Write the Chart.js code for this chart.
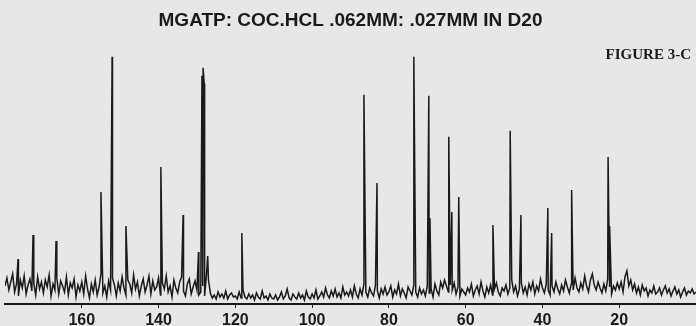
<!DOCTYPE html>
<html>
<head>
<meta charset="utf-8">
<script src="https://cdn.jsdelivr.net/npm/chart.js@4.4.1/dist/chart.umd.min.js"></script>
<style>
    html, body { margin: 0; padding: 0; background: #e7e7e5; }
    #wrap { width: 696px; height: 326px; position: relative; }
</style>
</head>
<body>
<div id="wrap">
    <canvas id="spectrum-chart" width="696" height="326"></canvas>
</div>

<script>
    // Chemical shift axis (ppm), reversed like the original spectrum
    const shiftMax = 180;
    const shiftMin = 0;
    const tickValues = [160, 140, 120, 100, 80, 60, 40, 20];

    // Resolved peaks: position (ppm) and height
    const peakShift = [176.6, 172.7, 166.7, 155.0, 152.1, 148.5, 139.4, 133.6, 129.6, 128.7, 128.4, 128.1, 127.2, 118.3,
        86.5, 83.1, 73.5, 69.6, 69.3, 64.4, 63.6, 61.8, 52.9, 48.4, 45.6, 38.6, 37.6, 32.4, 22.9, 22.5];
    const peakHeight = [45, 69, 63, 112, 247, 78, 137, 89, 52, 228, 236, 220, 48, 71,
        209, 121, 247, 208, 86, 167, 92, 107, 79, 173, 89, 96, 71, 114, 147, 78];

    // Baseline noise, read every 0.5 ppm from 180 down to 0
    const noiseStep = 0.5;
    const noise = [
        18, 26, 14, 22, 30, 12, 20, 8, 24, 16, 28, 10, 19, 25, 13, 21, 9, 27, 15, 22,
        11, 24, 17, 29, 8, 20, 14, 26, 10, 23, 18, 12, 27, 9, 21, 16, 25, 7, 19, 13,
        22, 10, 28, 15, 6, 20, 12, 24, 9, 17, 30, 11, 18, 7, 23, 14, 26, 19, 8, 21,
        13, 27, 16, 9, 24, 20, 11, 29, 15, 22, 8, 18, 25, 12, 19, 28, 10, 23, 14, 17,
        26, 9, 21, 15, 28, 12, 18, 7, 24, 16, 11, 22, 27, 13, 8, 20, 25, 10, 17, 23,
        14, 9, 12, 18, 8, 30, 24, 11, 6, 9, 5, 12, 7, 10, 6, 13, 5, 9, 11, 7,
        8, 5, 12, 6, 14, 7, 5, 10, 6, 9, 4, 11, 7, 5, 13, 6, 8, 4, 10, 6,
        5, 9, 4, 7, 12, 5, 8, 15, 6, 4, 10, 7, 5, 11, 6, 9, 4, 13, 7, 5,
        10, 6, 14, 5, 8, 12, 7, 16, 9, 6, 13, 8, 15, 7, 11, 6, 17, 9, 12, 8,
        14, 7, 18, 10, 6, 15, 9, 20, 12, 7, 16, 11, 8, 19, 13, 6, 15, 10, 17, 9,
        12, 18, 7, 14, 10, 20, 8, 15, 11, 6, 17, 13, 9, 19, 12, 7, 16, 10, 14, 8,
        18, 11, 15, 7, 20, 13, 9, 22, 16, 24, 18, 12, 19, 14, 21, 10, 17, 8, 15, 12,
        9, 16, 12, 20, 8, 14, 18, 10, 22, 13, 7, 17, 11, 19, 9, 15, 21, 12, 8, 16,
        13, 19, 10, 16, 24, 12, 18, 8, 15, 21, 11, 17, 9, 20, 14, 22, 10, 18, 13, 25,
        16, 11, 20, 14, 9, 18, 12, 22, 15, 10, 19, 13, 24, 17, 11, 20, 14, 26, 16, 12,
        21, 15, 28, 18, 12, 24, 30, 19, 14, 22, 16, 11, 20, 13, 25, 17, 10, 18, 14, 21,
        15, 22, 12, 27, 33, 18, 24, 14, 20, 11, 17, 9, 19, 13, 16, 8, 14, 11, 18, 10,
        12, 16, 9, 14, 18, 11, 15, 8, 13, 17, 10, 14, 7, 12, 16, 9, 13, 11, 15, 10,
        12
    ];

    // merge noise and peaks into one trace, sorted along the axis
    const trace = noise.map((v, i) => ({x: shiftMax - i * noiseStep, y: v}))
        .concat(peakShift.map((p, i) => ({x: p, y: peakHeight[i]})))
        .sort((a, b) => b.x - a.x);

    const inkColor = '#1a1a1a';

    const figureLabel = {
        id: 'figureLabel',
        afterDraw(chart) {
            const ctx = chart.ctx;
            ctx.save();
            ctx.fillStyle = inkColor;
            ctx.font = 'bold 15px "Liberation Serif"';
            ctx.textAlign = 'right';
            ctx.textBaseline = 'middle';
            ctx.fillText('FIGURE 3-C', 691, 55);
            ctx.restore();
        }
    };

    new Chart(document.getElementById('spectrum-chart'), {
        type: 'line',
        data: {
            datasets: [{
                data: trace,
                borderColor: inkColor,
                borderWidth: 1.5,
                pointRadius: 0,
                tension: 0,
                fill: false
            }]
        },
        options: {
            responsive: false,
            animation: false,
            events: [],
            layout: {padding: {left: 5, right: 0, top: 0, bottom: 0}},
            plugins: {
                legend: {display: false},
                tooltip: {enabled: false},
                title: {
                    display: true,
                    text: 'MGATP: COC.HCL .062MM: .027MM IN D20',
                    color: inkColor,
                    font: {family: '"Liberation Sans", Arial, sans-serif', size: 19, weight: 'bold', lineHeight: 1.2},
                    padding: {top: 9, bottom: 8}
                }
            },
            scales: {
                x: {
                    type: 'linear',
                    reverse: true,
                    min: shiftMin,
                    max: shiftMax,
                    afterBuildTicks: (scale) => {
                        scale.ticks = tickValues.map(v => ({value: v}));
                    },
                    afterFit: (scale) => {
                        scale.height = 22;
                    },
                    border: {display: true, color: inkColor, width: 2},
                    grid: {display: true, drawOnChartArea: false, drawTicks: true, tickLength: 4, color: inkColor},
                    ticks: {
                        color: inkColor,
                        padding: 3,
                        maxRotation: 0,
                        autoSkip: false,
                        font: {family: '"Liberation Sans", Arial, sans-serif', size: 16, weight: 'bold'}
                    }
                },
                y: {
                    display: false,
                    min: 0,
                    max: 264
                }
            }
        },
        plugins: [figureLabel]
    });
</script>
</body>
</html>
